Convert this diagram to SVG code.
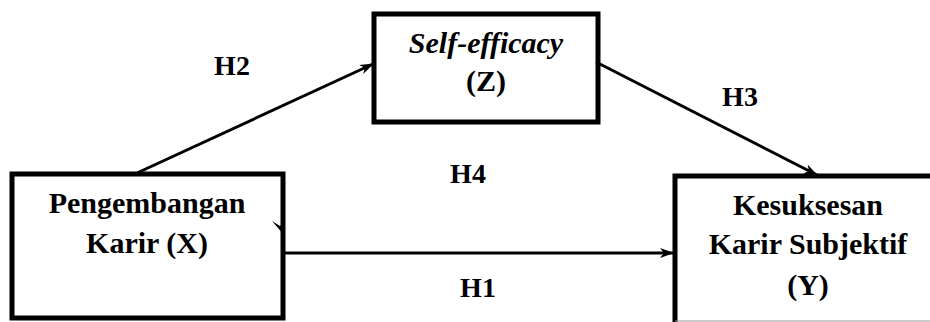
<svg xmlns="http://www.w3.org/2000/svg" width="930" height="322" viewBox="0 0 930 322">
<style>
.box{fill:none;stroke:#000;stroke-width:5}
.t{font-family:'Liberation Serif','Times New Roman',serif;font-weight:bold;font-size:30px;fill:#000;text-anchor:middle}
.lab{font-family:'Liberation Serif','Times New Roman',serif;font-weight:bold;font-size:28px;fill:#000;text-anchor:middle}
.c{stroke:#000;stroke-width:3;fill:none}
</style>
<defs>
<marker id="ah" markerWidth="14" markerHeight="10" refX="13" refY="5" orient="auto" markerUnits="userSpaceOnUse">
<path d="M0,0 L14,5 L0,10 L4,5 Z" fill="#000"/>
</marker>
</defs>
<rect width="930" height="322" fill="#fff"/>
<g id="connectors">
<line class="c" x1="137" y1="173" x2="373" y2="64" marker-end="url(#ah)"/>
<line class="c" x1="596" y1="62" x2="817" y2="175" marker-end="url(#ah)"/>
<line class="c" x1="284" y1="253" x2="673" y2="253" marker-end="url(#ah)"/>
<path d="M272,221 L284,235 L284,223 L280,226 Z" fill="#000"/>
</g>
<g id="node-x">
<rect class="box" x="12" y="174" width="271" height="144"/>
<text class="t" x="147" y="213">Pengembangan</text>
<text class="t" x="147" y="253">Karir (X)</text>
</g>
<g id="node-z">
<rect class="box" x="374" y="14" width="224" height="108"/>
<text class="t" x="486" y="53" font-style="italic">Self-efficacy</text>
<text class="t" x="486" y="91">(Z)</text>
</g>
<g id="node-y">
<path d="M675,322 L675,176 L930,176" class="box"/>
<line x1="675" y1="321" x2="930" y2="321" stroke="#999" stroke-width="1"/>
<text class="t" x="808" y="215">Kesuksesan</text>
<text class="t" x="808" y="254">Karir Subjektif</text>
<text class="t" x="808" y="295">(Y)</text>
</g>
<g id="labels">
<text class="lab" x="232" y="75">H2</text>
<text class="lab" x="740" y="106">H3</text>
<text class="lab" x="468" y="183">H4</text>
<text class="lab" x="478" y="297">H1</text>
</g>
</svg>
